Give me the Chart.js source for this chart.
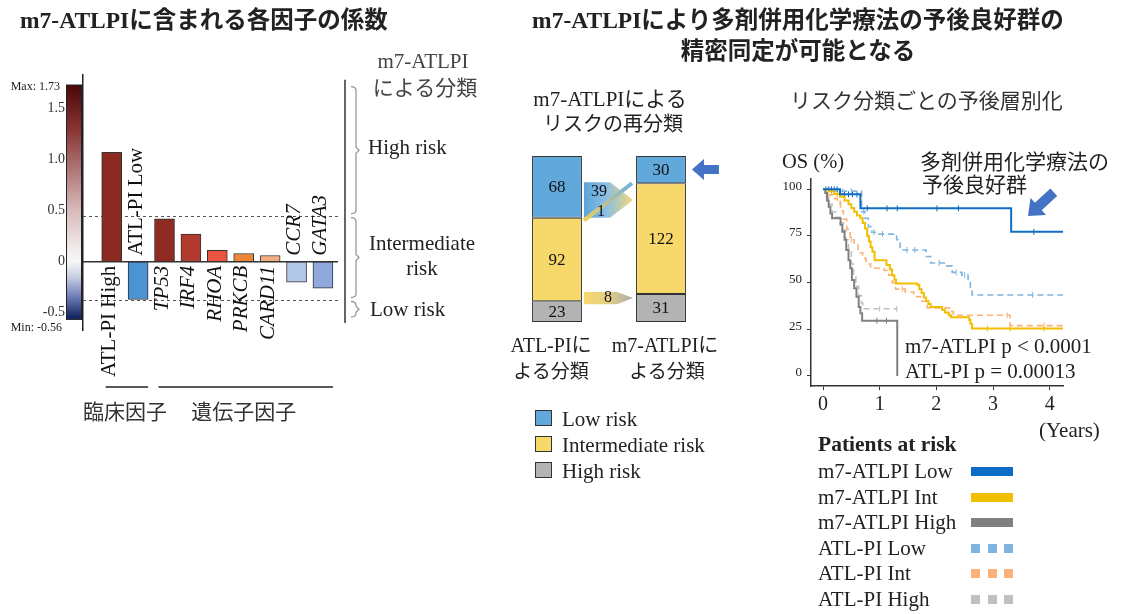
<!DOCTYPE html>
<html>
<head>
<meta charset="utf-8">
<script src="https://cdn.jsdelivr.net/npm/chart.js@4"></script>
<style>
body{margin:0;background:#fff;width:1121px;height:614px;overflow:hidden;position:relative;font-family:"Liberation Serif","Noto Sans CJK JP",serif;color:#222}
canvas{position:absolute;left:0;top:0}
.t{position:absolute;white-space:nowrap;line-height:1;transform:translateY(-50%)}
.c{transform:translate(-50%,-50%)}
.jp{font-family:"Noto Sans CJK JP",sans-serif}
.b{font-weight:bold}
.sw{position:absolute;height:9px}
.sq{position:absolute;width:17px;height:16px;border:1px solid #333;box-sizing:border-box}
</style>
</head>
<body>
<canvas id="coef" width="1121" height="614"></canvas>
<canvas id="reclass" width="1121" height="614"></canvas>
<canvas id="km" width="1121" height="614"></canvas>

<!-- titles -->
<div class="t b" style="left:20px;top:21px;font-size:23.5px">m7-ATLPIに含まれる各因子の係数</div>
<div class="t b c" style="left:798px;top:21px;font-size:23.5px">m7-ATLPIにより多剤併用化学療法の予後良好群の</div>
<div class="t b c jp" style="left:798px;top:50px;font-size:23.5px">精密同定が可能となる</div>

<!-- left panel texts -->
<div class="t" style="left:60px;top:86px;font-size:12px;transform:translate(-100%,-50%)">Max: 1.73</div>
<div class="t" style="left:62px;top:327px;font-size:12px;transform:translate(-100%,-50%)">Min: -0.56</div>
<div class="t c" style="left:423px;top:61px;font-size:21px;color:#444">m7-ATLPI</div>
<div class="t c jp" style="left:425px;top:86px;font-size:21px;color:#444">による分類</div>
<div class="t" style="left:368px;top:147px;font-size:21px">High risk</div>
<div class="t c" style="left:422px;top:243px;font-size:21px">Intermediate</div>
<div class="t c" style="left:422px;top:268px;font-size:21px">risk</div>
<div class="t" style="left:370px;top:309px;font-size:21px">Low risk</div>

<!-- middle panel texts -->
<div class="t c" style="left:610px;top:99px;font-size:21px">m7-ATLPIによる</div>
<div class="t c jp" style="left:613px;top:123px;font-size:20px">リスクの再分類</div>
<div class="t c" style="left:551px;top:345px;font-size:20px">ATL-PIに</div>
<div class="t c jp" style="left:551px;top:369px;font-size:19px">よる分類</div>
<div class="t c" style="left:665px;top:345px;font-size:20px">m7-ATLPIに</div>
<div class="t c jp" style="left:667px;top:369px;font-size:19px">よる分類</div>
<div class="sq" style="left:535px;top:410px;background:#62a9db"></div>
<div class="t" style="left:562px;top:419px;font-size:21px">Low risk</div>
<div class="sq" style="left:535px;top:436px;background:#f6d86b"></div>
<div class="t" style="left:562px;top:445px;font-size:21px">Intermediate risk</div>
<div class="sq" style="left:535px;top:462px;background:#b3b3b3"></div>
<div class="t" style="left:562px;top:471px;font-size:21px">High risk</div>

<!-- right panel texts -->
<div class="t jp" style="left:790px;top:99px;font-size:21px;color:#333">リスク分類ごとの予後層別化</div>
<div class="t" style="left:782px;top:161px;font-size:20.5px">OS (%)</div>
<div class="t jp" style="left:920px;top:160px;font-size:21px">多剤併用化学療法の</div>
<div class="t jp" style="left:922px;top:183px;font-size:21px">予後良好群</div>
<div class="t" style="left:905px;top:346px;font-size:21px">m7-ATLPI p &lt; 0.0001</div>
<div class="t" style="left:905px;top:371px;font-size:21px">ATL-PI p = 0.00013</div>
<div class="t" style="left:1039px;top:430px;font-size:21px">(Years)</div>
<div class="t b" style="left:818px;top:445px;font-size:21.5px">Patients at risk</div>
<div id="kmLegend"></div>

<script>
// ---- coefficients (left panel) ----
const factorLabels = ['ATL-PI High', 'ATL-PI Low', 'TP53', 'IRF4', 'RHOA', 'PRKCB', 'CARD11', 'CCR7', 'GATA3'];
const factorCoef = [1.07, -0.37, 0.42, 0.27, 0.11, 0.08, 0.06, -0.20, -0.26];
const clinicalFactors = ['ATL-PI High', 'ATL-PI Low'];
const geneFactors = ['TP53', 'IRF4', 'RHOA', 'PRKCB', 'CARD11', 'CCR7', 'GATA3'];
const coefTicks = [-0.5, 0, 0.5, 1.0, 1.5];
const coefMax = 1.73;
const coefMin = -0.56;
const riskCutoffs = [0.45, -0.37];

// ---- reclassification (middle panel) ----
const reclassGroups = ['ATL-PI', 'm7-ATLPI'];
const lowRisk = [68, 30];
const intRisk = [92, 122];
const highRisk = [23, 31];
const flowLowToInt = 39;
const flowIntToLow = 1;
const flowIntToHigh = 8;

// ---- survival curves (right panel), [years, OS %] ----
const yearTicks = [0, 1, 2, 3, 4];
const osTicks = [0, 25, 50, 75, 100];
const m7Low = [[0,100],[0.3,97.3],[0.66,89.8],[3.32,77.2],[4.24,77.2]];
const m7Int = [[0,100],[0.1,99],[0.2,97.5],[0.3,96],[0.38,94],[0.45,92],[0.5,90],[0.55,88],[0.6,86],[0.66,84.5],[0.7,82],[0.74,79],[0.78,75],[0.81,72],[0.84,69],[0.87,66.5],[0.91,62],[1.12,59.5],[1.18,57],[1.22,54],[1.26,51.5],[1.29,49.6],[1.66,48.8],[1.7,46.5],[1.74,44.5],[1.78,42],[1.82,40],[1.86,38.5],[1.9,37],[2.1,35.5],[2.15,34],[2.22,32.5],[2.26,31.5],[2.58,30],[2.6,28],[2.63,25.5],[4.24,25.5]];
const m7High = [[0,100],[0.04,98],[0.07,94],[0.1,90.7],[0.13,87],[0.16,84.5],[0.31,81],[0.34,77.3],[0.38,73],[0.41,67.5],[0.45,62],[0.48,57.7],[0.51,51.4],[0.55,47],[0.59,42.5],[0.63,37],[0.66,33.6],[0.69,29.6],[1.31,0]];
const atlLow = [[0,100],[0.12,99],[0.68,88],[0.74,84.5],[0.8,80],[0.86,77],[0.95,76],[1.3,73],[1.36,67.5],[1.82,64],[1.9,60.5],[2.18,59],[2.28,55.5],[2.45,54],[2.56,50],[2.6,47],[2.63,43.4],[4.24,43.4]];
const atlInt = [[0,100],[0.1,97],[0.2,95],[0.25,93],[0.31,88.5],[0.36,84],[0.42,78.5],[0.48,73],[0.55,70],[0.62,66],[0.7,63],[0.76,60],[0.84,57.7],[1.08,56.5],[1.16,54],[1.22,50],[1.28,46.5],[1.45,45],[1.6,42.5],[1.72,40],[1.84,36.5],[2.25,34.5],[2.3,32.5],[3.3,27],[4.24,27]];
const atlHigh = [[0,100],[0.05,96],[0.1,92],[0.16,88],[0.22,85],[0.3,82],[0.36,78],[0.4,73],[0.45,67],[0.5,60],[0.54,53],[0.58,48],[0.63,43],[0.68,39],[0.7,36],[1.31,36]];
// censoring times (years)
const m7LowCensor = [0.05, 0.1, 0.15, 0.2, 0.25, 0.38, 0.45, 0.52, 0.6, 0.78, 1.13, 1.31, 2.01, 2.39, 3.72];
const m7IntCensor = [0.15, 0.25, 2.9, 3.3, 3.9];
const m7HighCensor = [0.95, 1.12];
const atlLowCensor = [0.2, 0.35, 0.5, 0.72, 0.9, 1.05, 1.48, 1.62, 2.05, 2.35, 2.5, 3.7];
const atlIntCensor = [0.3, 0.5, 1.4, 3.25, 3.9];
const atlHighCensor = [1.0, 1.3];
const kmNames = ['m7-ATLPI Low', 'm7-ATLPI Int', 'm7-ATLPI High', 'ATL-PI Low', 'ATL-PI Int', 'ATL-PI High'];

// styles
const serif = 'Liberation Serif';
const factorColors = ['#8b2a21', '#4c93d3', '#8e2b22', '#b23b2f', '#e9553f', '#ef8636', '#f3ad7e', '#b3c7e9', '#8fa9dd'];
const geneItalic = new Set(geneFactors);
const kmColors = ['#0f6cc4', '#f2be00', '#808080', '#7fb5e0', '#fbb27a', '#c0c0c0'];
const barBlue = '#62a9db', barYellow = '#f6d86b', barGrey = '#b3b3b3';

function blockArrow(ctx, tx, ty, angle, len, bodyW, headW, headL, color) {
  ctx.save();
  ctx.translate(tx, ty);
  ctx.rotate(angle);
  ctx.beginPath();
  ctx.moveTo(0, 0);
  ctx.lineTo(-headL, -headW / 2);
  ctx.lineTo(-headL, -bodyW / 2);
  ctx.lineTo(-len, -bodyW / 2);
  ctx.lineTo(-len, bodyW / 2);
  ctx.lineTo(-headL, bodyW / 2);
  ctx.lineTo(-headL, headW / 2);
  ctx.closePath();
  ctx.fillStyle = color;
  ctx.fill();
  ctx.restore();
}

const coefDecor = {
  id: 'coefDecor',
  beforeDatasetsDraw(chart) {
    const { ctx, chartArea: a, scales: { y } } = chart;
    const top = y.getPixelForValue(coefMax), bot = y.getPixelForValue(coefMin);
    const g = ctx.createLinearGradient(0, top, 0, bot);
    [[1.73, '#4a0606'], [1.3, '#873333'], [0.9, '#b07676'], [0.5, '#d9baba'], [0.12, '#f1ecec'], [0, '#f6f6f6'],
     [-0.15, '#c8cee3'], [-0.35, '#6a7ab4'], [-0.56, '#0b1d5c']]
      .forEach(([v, c]) => g.addColorStop((y.getPixelForValue(v) - top) / (bot - top), c));
    ctx.save();
    ctx.fillStyle = g;
    ctx.fillRect(a.left - 17, top, 16, bot - top);
    ctx.strokeStyle = '#222';
    ctx.lineWidth = 1;
    ctx.strokeRect(a.left - 16.5, top + 0.5, 15, bot - top);
    ctx.setLineDash([3, 3]);
    ctx.strokeStyle = '#555';
    riskCutoffs.forEach(v => {
      const py = Math.round(y.getPixelForValue(v)) + 0.5;
      ctx.beginPath(); ctx.moveTo(a.left, py); ctx.lineTo(a.right + 2, py); ctx.stroke();
    });
    ctx.restore();
  },
  afterDatasetsDraw(chart) {
    const { ctx, chartArea: a, scales: { y } } = chart;
    const zy = y.getPixelForValue(0);
    const els = chart.getDatasetMeta(0).data;
    ctx.save();
    ctx.strokeStyle = '#333'; ctx.lineWidth = 1.5;
    ctx.beginPath(); ctx.moveTo(a.left, zy); ctx.lineTo(a.right, zy); ctx.stroke();
    // rotated factor names
    ctx.fillStyle = '#111';
    ctx.textBaseline = 'middle';
    factorLabels.forEach((lab, i) => {
      const el = els[i];
      ctx.save();
      ctx.font = (geneItalic.has(lab) ? 'italic ' : '') + '21px "' + serif + '"';
      if (factorCoef[i] >= 0) {
        ctx.translate(el.x - 2, zy + 4);
        ctx.rotate(-Math.PI / 2);
        ctx.textAlign = 'right';
      } else {
        ctx.translate(el.x - 2, zy - 6);
        ctx.rotate(-Math.PI / 2);
        ctx.textAlign = 'left';
      }
      ctx.fillText(lab, 0, 0);
      ctx.restore();
    });
    // group lines
    const groups = [[clinicalFactors, '臨床因子'], [geneFactors, '遺伝子因子']];
    ctx.strokeStyle = '#222'; ctx.lineWidth = 1.5;
    ctx.font = '21px "Noto Sans CJK JP"';
    ctx.textAlign = 'center';
    ctx.fillStyle = '#333';
    groups.forEach(([names, text]) => {
      const x0 = els[factorLabels.indexOf(names[0])].x - 6;
      const x1 = els[factorLabels.indexOf(names[names.length - 1])].x + 10;
      ctx.beginPath(); ctx.moveTo(x0, 387); ctx.lineTo(x1, 387); ctx.stroke();
      ctx.fillText(text, (x0 + x1) / 2 - 2, 411);
    });
    // risk brackets on the right
    const bx = a.right + 7;
    ctx.strokeStyle = '#333'; ctx.lineWidth = 1.5;
    ctx.beginPath(); ctx.moveTo(bx, y.getPixelForValue(coefMax) - 5); ctx.lineTo(bx, y.getPixelForValue(coefMin) + 4); ctx.stroke();
    const spans = [[coefMax, riskCutoffs[0]], [riskCutoffs[0], riskCutoffs[1]], [riskCutoffs[1], coefMin]];
    ctx.strokeStyle = '#999'; ctx.lineWidth = 1.3;
    spans.forEach(([v0, v1]) => {
      const y0 = y.getPixelForValue(v0) + 2, y1 = y.getPixelForValue(v1) - 2, ym = (y0 + y1) / 2;
      const x = bx + 11;
      ctx.beginPath();
      ctx.moveTo(x - 5, y0);
      ctx.quadraticCurveTo(x, y0, x, y0 + 4);
      ctx.lineTo(x, ym - 3);
      ctx.lineTo(x + 3, ym);
      ctx.lineTo(x, ym + 3);
      ctx.lineTo(x, y1 - 4);
      ctx.quadraticCurveTo(x, y1, x - 5, y1);
      ctx.stroke();
    });
    ctx.restore();
  }
};

new Chart(document.getElementById('coef'), {
  type: 'bar',
  data: {
    datasets: [{
      data: factorCoef.map((v, i) => ({ x: i, y: v })),
      backgroundColor: factorColors,
      borderColor: '#333',
      borderWidth: 1,
      borderSkipped: false,
      barThickness: 20
    }]
  },
  options: {
    responsive: false,
    animation: false,
    events: [],
    layout: { padding: { left: 33, right: 1121 - 338, top: 75, bottom: 614 - 330 } },
    plugins: { legend: { display: false }, tooltip: { enabled: false } },
    scales: {
      x: { type: 'linear', offset: false, min: -1.087, max: 8.57, display: false },
      y: {
        min: -0.668, max: 1.825,
        afterBuildTicks: s => { s.ticks = coefTicks.map(v => ({ value: v })); },
        afterFit: s => { s.width = 50; },
        grid: { display: false, drawTicks: false },
        border: { display: true, color: '#222', width: 1.5 },
        ticks: {
          padding: 18,
          color: '#333',
          font: { family: serif, size: 14 },
          callback: v => v === 0 ? '0' : v.toFixed(1)
        }
      }
    }
  },
  plugins: [coefDecor]
});

// ---- middle: stacked reclassification bars ----
const reclassDecor = {
  id: 'reclassDecor',
  afterDatasetsDraw(chart) {
    const { ctx, scales: { y } } = chart;
    ctx.save();
    ctx.fillStyle = '#111';
    ctx.font = '17px "' + serif + '"';
    ctx.textAlign = 'center';
    ctx.textBaseline = 'middle';
    chart.data.datasets.forEach((ds, di) => {
      chart.getDatasetMeta(di).data.forEach((el, i) => {
        ctx.fillText(ds.data[i], el.x, (el.y + el.base) / 2 + 1);
      });
    });
    const L = chart.getDatasetMeta(0).data[0], R = chart.getDatasetMeta(0).data[1];
    const x0 = L.x + L.width / 2 + 2, x1 = R.x - R.width / 2 - 3;
    // low -> intermediate
    const lowStart = highRisk[0] + intRisk[0];
    const aTop = y.getPixelForValue(lowStart + flowLowToInt), aBot = y.getPixelForValue(lowStart);
    const aMid = (aTop + aBot) / 2;
    let g = ctx.createLinearGradient(x0, 0, x1, 0);
    g.addColorStop(0, '#5ba3da'); g.addColorStop(0.45, 'rgba(125,183,226,0.9)'); g.addColorStop(1, 'rgba(246,214,110,0.95)');
    ctx.fillStyle = g;
    ctx.beginPath();
    ctx.moveTo(x0, aTop); ctx.lineTo(x1 - 23, aTop); ctx.lineTo(x1, aMid); ctx.lineTo(x1 - 23, aBot); ctx.lineTo(x0, aBot);
    ctx.closePath(); ctx.fill();
    // intermediate -> low
    const bStart = y.getPixelForValue(lowStart - 3), bEnd = y.getPixelForValue(highRisk[1] + intRisk[1]);
    g = ctx.createLinearGradient(x0, bStart, x1, bEnd);
    g.addColorStop(0, '#f3cf55'); g.addColorStop(1, '#6fb1e3');
    ctx.strokeStyle = g; ctx.lineWidth = 4;
    ctx.beginPath(); ctx.moveTo(x0, bStart); ctx.lineTo(x1 - 1, bEnd); ctx.stroke();
    ctx.fillStyle = '#111';
    ctx.font = '16px "' + serif + '"';
    ctx.fillText(flowLowToInt, x0 + 15, (aTop + aMid) / 2 + 1);
    ctx.fillText(flowIntToLow, x0 + 17, (aMid + aBot) / 2 + 3);
    // intermediate -> high
    const cTop = y.getPixelForValue(highRisk[0] + flowIntToHigh) - 2, cBot = y.getPixelForValue(highRisk[0]) + 3;
    const cMid = (cTop + cBot) / 2;
    g = ctx.createLinearGradient(x0, 0, x1, 0);
    g.addColorStop(0, '#f6d86b'); g.addColorStop(0.5, '#e6cf86'); g.addColorStop(1, '#a9a9a9');
    ctx.fillStyle = g;
    ctx.beginPath();
    ctx.moveTo(x0, cTop); ctx.lineTo(x1 - 16, cTop); ctx.lineTo(x1, cMid); ctx.lineTo(x1 - 16, cBot); ctx.lineTo(x0, cBot);
    ctx.closePath(); ctx.fill();
    ctx.fillStyle = '#111';
    ctx.fillText(flowIntToHigh, x0 + 24, cMid);
    // highlight arrow beside the new low-risk group
    const lowEl = chart.getDatasetMeta(2).data[1];
    blockArrow(ctx, lowEl.x + lowEl.width / 2 + 6, (lowEl.y + lowEl.base) / 2, Math.PI, 27, 9, 21, 12, '#4472c4');
    ctx.restore();
  }
};

new Chart(document.getElementById('reclass'), {
  type: 'bar',
  data: {
    labels: reclassGroups,
    datasets: [
      { label: 'High risk', data: highRisk, backgroundColor: barGrey },
      { label: 'Intermediate risk', data: intRisk, backgroundColor: barYellow },
      { label: 'Low risk', data: lowRisk, backgroundColor: barBlue }
    ]
  },
  options: {
    responsive: false,
    animation: false,
    events: [],
    datasets: { bar: { borderColor: '#333', borderWidth: 1, borderSkipped: false, barPercentage: 0.48, categoryPercentage: 1 } },
    layout: { padding: { left: 505, right: 1121 - 713, top: 156, bottom: 614 - 322 } },
    plugins: { legend: { display: false }, tooltip: { enabled: false } },
    scales: {
      x: { stacked: true, display: false },
      y: { stacked: true, display: false, min: 0, max: lowRisk[0] + intRisk[0] + highRisk[0] }
    }
  },
  plugins: [reclassDecor]
});

// ---- right: Kaplan-Meier curves ----
const kmDecor = {
  id: 'kmDecor',
  afterDraw(chart) {
    blockArrow(chart.ctx, 1028, 216, Math.atan2(23, -25), 35, 10, 23, 14, '#4472c4');
  }
};

// survival level of a step curve at time t
const survivalAt = (curve, t) => curve.filter(p => p[0] <= t).pop()[1];

const kmSeries = [m7Low, m7Int, m7High, atlLow, atlInt, atlHigh];
const kmCensor = [m7LowCensor, m7IntCensor, m7HighCensor, atlLowCensor, atlIntCensor, atlHighCensor];
const curveSets = kmSeries.map((s, i) => ({
  label: kmNames[i],
  data: s.map(([x, y]) => ({ x, y })),
  borderColor: kmColors[i],
  borderWidth: i < 3 ? 2 : 1.6,
  borderDash: i < 3 ? [] : [6, 4],
  stepped: true,
  pointRadius: 0,
  fill: false
}));
const censorSets = kmCensor.map((times, i) => ({
  label: kmNames[i] + ' censored',
  data: times.map(t => ({ x: t, y: survivalAt(kmSeries[i], t) })),
  showLine: false,
  pointStyle: 'line',
  pointRotation: 90,
  pointRadius: 3,
  pointBorderWidth: 1,
  pointBorderColor: kmColors[i]
}));

new Chart(document.getElementById('km'), {
  type: 'line',
  data: { datasets: curveSets.concat(censorSets) },
  options: {
    responsive: false,
    animation: false,
    events: [],
    layout: { padding: { left: 811 - 40, right: 1121 - 1063, top: 179, bottom: 614 - 386 - 30 } },
    plugins: { legend: { display: false }, tooltip: { enabled: false } },
    scales: {
      x: {
        type: 'linear', min: -0.212, max: 4.235,
        afterBuildTicks: s => { s.ticks = yearTicks.map(v => ({ value: v })); },
        afterFit: s => { s.height = 30; },
        grid: { drawOnChartArea: false, tickLength: 4, color: '#333' },
        border: { color: '#333', width: 1.5 },
        ticks: { padding: 3, color: '#222', font: { family: serif, size: 20 } }
      },
      y: {
        min: -5.36, max: 105.5,
        afterBuildTicks: s => { s.ticks = osTicks.map(v => ({ value: v })); },
        afterFit: s => { s.width = 40; },
        grid: { drawOnChartArea: false, tickLength: 4, color: '#333' },
        border: { color: '#333', width: 1.5 },
        ticks: { padding: 5, labelOffset: -3, color: '#222', font: { family: serif, size: 13 } }
      }
    }
  },
  plugins: [kmDecor]
});

// KM legend rows
const legendBox = document.getElementById('kmLegend');
kmNames.forEach((name, i) => {
  const cy = 471 + i * 25.5;
  const t = document.createElement('div');
  t.className = 't';
  t.style.cssText = `left:818px;top:${cy}px;font-size:21px`;
  t.textContent = name;
  legendBox.appendChild(t);
  if (i < 3) {
    const s = document.createElement('div');
    s.className = 'sw';
    s.style.cssText = `left:971px;top:${cy - 4}px;width:42px;background:${kmColors[i]}`;
    legendBox.appendChild(s);
  } else {
    [971, 988, 1004].forEach(x => {
      const s = document.createElement('div');
      s.className = 'sw';
      s.style.cssText = `left:${x}px;top:${cy - 4}px;width:9px;background:${kmColors[i]}`;
      legendBox.appendChild(s);
    });
  }
});
</script>
</body>
</html>
